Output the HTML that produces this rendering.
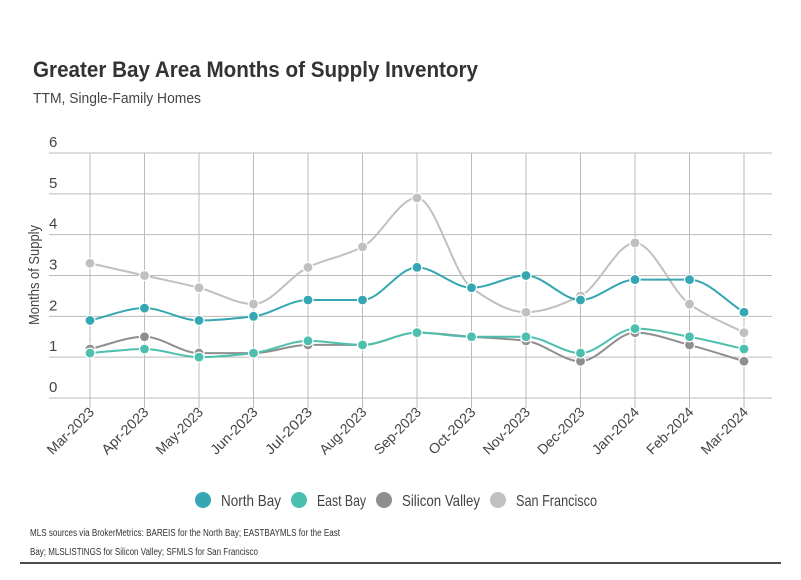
<!DOCTYPE html>
<html><head><meta charset="utf-8"><style>
body{margin:0;background:#fff;width:801px;height:575px;overflow:hidden;font-family:"Liberation Sans",sans-serif;}
svg text{font-family:"Liberation Sans",sans-serif;}
</style></head><body>
<svg id="chart" width="801" height="575" xmlns="http://www.w3.org/2000/svg">
<text x="33" y="77" font-size="22" font-weight="bold" fill="#333" textLength="445" lengthAdjust="spacingAndGlyphs">Greater Bay Area Months of Supply Inventory</text>
<text x="33" y="103" font-size="15" fill="#444" textLength="168" lengthAdjust="spacingAndGlyphs">TTM, Single-Family Homes</text>
<text transform="translate(39,275) rotate(-90)" text-anchor="middle" font-size="15" fill="#444" textLength="100" lengthAdjust="spacingAndGlyphs">Months of Supply</text>
<g id="grid"></g><g id="series"></g><g id="xlabels"></g>
<g id="legend"></g>
<text x="30" y="536" font-size="10" fill="#333" textLength="310" lengthAdjust="spacingAndGlyphs">MLS sources via BrokerMetrics: BAREIS for the North Bay; EASTBAYMLS for the East</text>
<text x="30" y="555" font-size="10" fill="#333" textLength="228" lengthAdjust="spacingAndGlyphs">Bay; MLSLISTINGS for Silicon Valley; SFMLS for San Francisco</text>
<line x1="20" y1="563" x2="781" y2="563" stroke="#111" stroke-width="1.5"/>
</svg>
<script>
const categories=["Mar-2023","Apr-2023","May-2023","Jun-2023","Jul-2023","Aug-2023","Sep-2023","Oct-2023","Nov-2023","Dec-2023","Jan-2024","Feb-2024","Mar-2024"];
const yTicks=[0,1,2,3,4,5,6];
const seriesNames=["North Bay","East Bay","Silicon Valley","San Francisco"];
const northBay=[1.9,2.2,1.9,2.0,2.4,2.4,3.2,2.7,3.0,2.4,2.9,2.9,2.1];
const eastBay=[1.1,1.2,1.0,1.1,1.4,1.3,1.6,1.5,1.5,1.1,1.7,1.5,1.2];
const siliconValley=[1.2,1.5,1.1,1.1,1.3,1.3,1.6,1.5,1.4,0.9,1.6,1.3,0.9];
const sanFrancisco=[3.3,3.0,2.7,2.3,3.2,3.7,4.9,2.7,2.1,2.5,3.8,2.3,1.6];
const colors=["#35a7b2","#4dbfae","#8f8f8f","#c0c0c0"];
const NS="http://www.w3.org/2000/svg";
const X0=90,X1=744,Y0=398,Y6=153;
const xs=i=>X0+(X1-X0)*i/(categories.length-1);
const ys=v=>Y0-(Y0-Y6)*v/6;
function mk(t,a,p){const e=document.createElementNS(NS,t);for(const k in a)e.setAttribute(k,a[k]);(p||document.getElementById('chart')).appendChild(e);return e;}
const grid=document.getElementById('grid');
yTicks.forEach(v=>{
 const l=mk('line',{x1:49,x2:772,y1:ys(v),y2:ys(v),stroke:'#bbb','stroke-width':1},grid);
 
 
 const t=mk('text',{x:49,y:ys(v)-6,'text-anchor':'start','font-size':15,fill:'#444'},grid);
 t.textContent=v;
 
 
});
const xl=document.getElementById('xlabels');
categories.forEach((c,i)=>{
 const l=mk('line',{x1:xs(i),x2:xs(i),y1:153,y2:408,stroke:'#bbb','stroke-width':1},grid);
 
 
 const t=mk('text',{transform:`translate(${xs(i)+5},${413}) rotate(-45)`,'text-anchor':'end','font-size':14,fill:'#444',textLength:60,lengthAdjust:'spacingAndGlyphs'},xl);
 t.textContent=c;
 
 
});
function spline(vals){
 const p=vals.map((v,i)=>[xs(i),ys(v)]);
 const n=p.length,h=p[1][0]-p[0][0];
 const s=[];for(let i=0;i<n-1;i++)s.push((p[i+1][1]-p[i][1])/h);
 const m=[];
 for(let i=0;i<n;i++){
  if(i===0)m.push(s[0]);else if(i===n-1)m.push(s[n-2]);
  else if(s[i-1]*s[i]<=0)m.push(0);
  else m.push(2/(1/s[i-1]+1/s[i]));
 }
 let d=`M${p[0][0]},${p[0][1]}`;
 for(let i=0;i<n-1;i++){
  d+=` C${p[i][0]+h/3},${p[i][1]+m[i]*h/3} ${p[i+1][0]-h/3},${p[i+1][1]-m[i+1]*h/3} ${p[i+1][0]},${p[i+1][1]}`;
 }
 return d;
}
const sg=document.getElementById('series');
const allSeries=[northBay,eastBay,siliconValley,sanFrancisco];
[3,0,2,1].forEach(si=>{
 const vals=allSeries[si];
 const g=mk('g',{},sg);
 
 
 const path=mk('path',{d:spline(vals),fill:'none',stroke:colors[si],'stroke-width':2},g);
 
 
 vals.forEach((v,i)=>{
  const c=mk('circle',{cx:xs(i),cy:ys(v),r:5,fill:colors[si],stroke:'#fff','stroke-width':1.2},g);
  
  
 });
});
const lg=document.getElementById('legend');
const lx=[203,299,384,498];
const lw=[60,49,78,81];
seriesNames.forEach((n,i)=>{
 const c=mk('circle',{cx:lx[i],cy:500,r:8,fill:colors[i]},lg);
 
 
 const t=mk('text',{x:lx[i]+18,y:506,'font-size':16,fill:'#444',textLength:lw[i],lengthAdjust:'spacingAndGlyphs'},lg);
 t.textContent=n;
 
 
});
</script>
</body></html>
